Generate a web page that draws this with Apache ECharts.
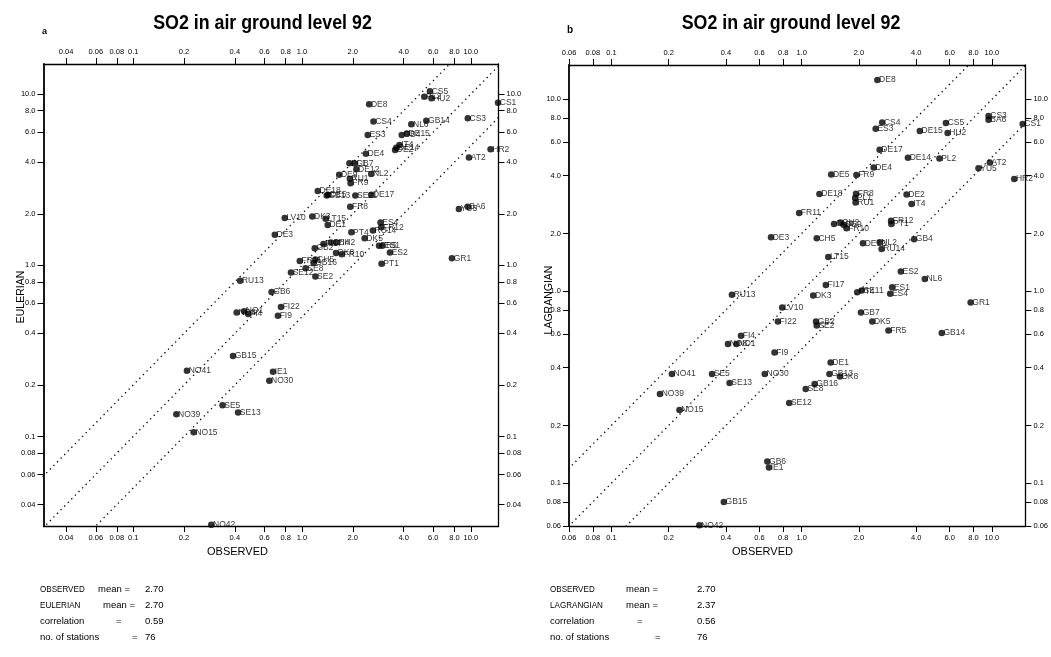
<!DOCTYPE html>
<html><head><meta charset="utf-8">
<script src="https://cdn.jsdelivr.net/npm/echarts@6/dist/echarts.min.js"></script>
<style>html,body{margin:0;padding:0;background:#fff}#c{width:1051px;height:657px}</style>
</head><body><div id="c"></div>
<script>
const STATIONS = ['DE8','CS4','ES3','DE15','CS5','HU2','CS3','BA6','CS1','DE17','DE14','PL2','AT2','YU5','HR2','DE4','DE5','FR9','DE18','FR8','PL1','RU1','DE2','IT4','FR11','CH4','CH2','DE9','FR10','FR12','PT1','DE3','CH5','DE12','NL2','RU14','GB4','LT15','ES2','NL6','FI17','RU13','DK3','PT4','SE11','ES1','ES4','GR1','LV10','FI22','GB2','SE2','GB7','DK5','FR5','GB14','FI4','NO8','NO1','FI9','DE1','GB13','DK8','NO41','SE5','NO30','SE13','GB16','SE8','NO39','SE12','NO15','GB6','IE1','GB15','NO42'];
const OBSERVED = [2.50,2.65,2.45,4.18,5.73,5.85,9.6,9.6,14.5,2.57,3.62,5.3,9.75,8.5,13.1,2.39,1.43,1.94,1.24,1.93,1.91,1.92,3.56,3.78,0.97,1.48,1.6,1.66,1.72,2.95,2.96,0.69,1.2,2.1,2.57,2.63,3.9,1.38,3.32,4.44,1.34,0.43,1.15,1.96,2.07,2.99,2.92,7.73,0.79,0.75,1.19,1.2,2.05,2.35,2.86,5.45,0.48,0.41,0.454,0.72,1.42,1.4,1.59,0.208,0.338,0.64,0.418,1.17,1.05,0.18,0.86,0.228,0.66,0.673,0.39,0.29];
const EULERIAN = [8.73,6.91,5.78,5.88,10.4,9.46,7.23,2.20,8.92,2.58,4.87,9.67,4.26,2.13,4.77,4.48,2.58,3.02,2.72,2.20,3.95,3.20,4.72,5.05,1.06,1.36,1.36,3.38,1.16,1.67,1.02,1.51,1.08,3.64,3.42,1.60,5.78,1.87,1.19,6.67,1.33,0.812,1.93,1.56,2.56,1.30,1.78,1.10,1.89,0.57,1.26,0.86,3.93,1.44,1.30,6.98,0.52,0.53,0.54,0.507,1.72,2.56,1.18,0.242,0.152,0.212,0.138,1.03,0.96,0.135,0.908,0.106,0.698,0.239,0.295,0.0305];
const LAGRANGIAN = [12.6,7.57,7.02,6.85,7.52,6.67,8.2,7.82,7.45,5.46,4.96,4.92,4.69,4.38,3.85,4.41,4.06,4.03,3.21,3.22,3.06,2.90,3.19,2.85,2.56,2.24,2.28,2.22,2.13,2.33,2.24,1.91,1.89,1.78,1.80,1.66,1.87,1.51,1.27,1.16,1.08,0.96,0.95,0.99,1.01,1.05,0.97,0.874,0.823,0.696,0.696,0.664,0.776,0.696,0.625,0.606,0.587,0.531,0.531,0.480,0.426,0.371,0.360,0.371,0.371,0.371,0.333,0.329,0.31,0.292,0.262,0.241,0.130,0.121,0.080,0.0605];
const TICKS_A = [0.04,0.06,0.08,0.1,0.2,0.4,0.6,0.8,1,2,4,6,8,10];
const TICK_LABELS_A = ['0.04','0.06','0.08','0.1','0.2','0.4','0.6','0.8','1.0','2.0','4.0','6.0','8.0','10.0'];
const TICKS_B = [0.06,0.08,0.1,0.2,0.4,0.6,0.8,1,2,4,6,8,10];
const TICK_LABELS_B = ['0.06','0.08','0.1','0.2','0.4','0.6','0.8','1.0','2.0','4.0','6.0','8.0','10.0'];
const FACTORS = [2, 1, 0.5];
const TITLE = 'SO2 in air ground level 92';
const STATS_A = [['OBSERVED','mean =','2.70'],['EULERIAN','mean =','2.70'],['correlation','=','0.59'],['no. of stations','=','76']];
const STATS_B = [['OBSERVED','mean =','2.70'],['LAGRANGIAN','mean =','2.37'],['correlation','=','0.56'],['no. of stations','=','76']];

const FONT = "'Liberation Sans Narrow','Liberation Sans',Arial,sans-serif";
const FONT2 = "'Liberation Sans',Arial,sans-serif";

function tickLabel(values, labels) {
  return function (v) {
    for (let i = 0; i < values.length; i++) {
      if (Math.abs(Math.log10(v) - Math.log10(values[i])) < 1e-4) return labels[i];
    }
    return '';
  };
}
function axis(gridIndex, position, min, max, ticks, labels, lineW) {
  return {
    type: 'log', logBase: 10, gridIndex: gridIndex, position: position, min: min, max: max,
    axisLine: {show: true, onZero: false, lineStyle: {color: '#000', width: lineW || 1.3}},
    axisTick: {show: true, inside: false, length: 6, customValues: ticks, lineStyle: {color: '#000', width: 1}},
    axisLabel: {show: true, customValues: ticks, formatter: tickLabel(ticks, labels), fontSize: 7.5,
      color: '#000', fontFamily: FONT, margin: 8, hideOverlap: false},
    splitLine: {show: false}, minorTick: {show: false}, minorSplitLine: {show: false}
  };
}
function diag(xi, yi, f) {
  return {type: 'line', xAxisIndex: xi, yAxisIndex: yi, data: [[1e-3, 1e-3 * f], [1e3, 1e3 * f]],
    symbol: 'none', silent: true, clip: true, animation: false, z: 1,
    lineStyle: {color: '#000', width: 1.3, type: [1.3, 3.8], cap: 'butt'}};
}
function scatter(xi, yi, yvals) {
  return {type: 'scatter', xAxisIndex: xi, yAxisIndex: yi, symbol: 'circle', symbolSize: 6.5,
    itemStyle: {color: '#000'}, clip: false, animation: false, z: 3,
    data: STATIONS.map((s, i) => ({name: s, value: [OBSERVED[i], yvals[i]]})),
    label: {show: true, position: 'right', distance: -1.5, offset: [0, -3], formatter: '{b}',
      fontSize: 8.5, color: '#000', fontFamily: FONT},
    labelLayout: {hideOverlap: false}};
}
function txt(x, y, text, font, align, extra) {
  return Object.assign({type: 'text', x: x, y: y, silent: true,
    style: {text: text, fill: '#000', font: font, textAlign: align, align: align,
      textVerticalAlign: 'middle', verticalAlign: 'middle'}}, extra || {});
}

const A = {xmin: 0.0294, xmax: 14.6, ymin: 0.030, ymax: 15.0};
const B = {xmin: 0.0599, xmax: 15.0, ymin: 0.0599, ymax: 15.1};

const graphics = [
  txt(262.5, 23.5, TITLE, "bold 20px " + FONT2, 'center', {scaleX: 0.89}),
  txt(791, 23.5, TITLE, "bold 20px " + FONT2, 'center', {scaleX: 0.89}),
  txt(42, 32, 'a', "bold 9px " + FONT2, 'left'),
  txt(567, 30, 'b', "bold 10px " + FONT2, 'left'),
  txt(237.5, 551.5, 'OBSERVED', "11px " + FONT2, 'center'),
  txt(762.5, 552, 'OBSERVED', "11px " + FONT2, 'center'),
  txt(21, 297, 'EULERIAN', "10.5px " + FONT2, 'center', {rotation: Math.PI / 2}),
  txt(549, 300, 'LAGRANGIAN', "10.5px " + FONT2, 'center', {rotation: Math.PI / 2})
];
const ROWS_Y = [589, 605, 621, 637];
const COLS_A = [[40, 98, 145], [40, 103, 145], [40, 116, 145], [40, 132, 145]];
const COLS_B = [[550, 626, 697], [550, 626, 697], [550, 637, 697], [550, 655, 697]];
function stats(rows, cols) {
  rows.forEach((r, i) => {
    const caps = r[0] === r[0].toUpperCase();
    graphics.push(txt(cols[i][0], ROWS_Y[i], r[0], "9.5px " + FONT2, 'left', caps ? {scaleX: 0.85} : {}));
    graphics.push(txt(cols[i][1], ROWS_Y[i], r[1], "9.5px " + FONT2, 'left'));
    graphics.push(txt(cols[i][2], ROWS_Y[i], r[2], "9.5px " + FONT2, 'left'));
  });
}
stats(STATS_A, COLS_A);
stats(STATS_B, COLS_B);

const series = [];
FACTORS.forEach(f => series.push(diag(0, 0, f)));
FACTORS.forEach(f => series.push(diag(2, 2, f)));
series.push(scatter(0, 0, EULERIAN));
series.push(scatter(2, 2, LAGRANGIAN));

const chart = echarts.init(document.getElementById('c'), null, {renderer: 'canvas'});
chart.setOption({
  backgroundColor: '#fff',
  animation: false,
  grid: [
    {left: 43.5, top: 64, width: 455, height: 462, containLabel: false},
    {left: 569, top: 65, width: 459, height: 461, containLabel: false}
  ],
  xAxis: [
    axis(0, 'bottom', A.xmin, A.xmax, TICKS_A, TICK_LABELS_A),
    axis(0, 'top', A.xmin, A.xmax, TICKS_A, TICK_LABELS_A),
    axis(1, 'bottom', B.xmin, B.xmax, TICKS_B, TICK_LABELS_B),
    axis(1, 'top', B.xmin, B.xmax, TICKS_B, TICK_LABELS_B)
  ],
  yAxis: [
    axis(0, 'left', A.ymin, A.ymax, TICKS_A, TICK_LABELS_A, 1.8),
    axis(0, 'right', A.ymin, A.ymax, TICKS_A, TICK_LABELS_A),
    axis(1, 'left', B.ymin, B.ymax, TICKS_B, TICK_LABELS_B, 1.8),
    axis(1, 'right', B.ymin, B.ymax, TICKS_B, TICK_LABELS_B)
  ],
  series: series,
  graphic: graphics
});
</script></body></html>
